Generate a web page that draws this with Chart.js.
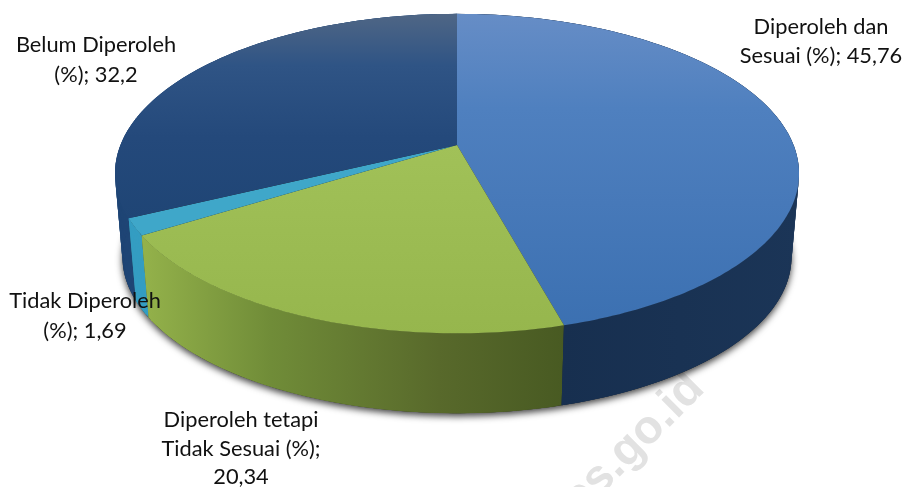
<!DOCTYPE html>
<html>
<head>
<meta charset="utf-8">
<script src="https://cdn.jsdelivr.net/npm/chart.js@4/dist/chart.umd.min.js"></script>
<style>
  body { margin: 0; background: #fff; }
  canvas { display: block; }
</style>
</head>
<body>
<canvas id="chartPie" width="908" height="487"></canvas>
<script>
const categories = ["Diperoleh dan Sesuai (%)", "Diperoleh tetapi Tidak Sesuai (%)", "Tidak Diperoleh (%)", "Belum Diperoleh (%)"];
const values = [45.76, 20.34, 1.69, 32.2];
const baseColors = ["#4a7dbd", "#9bbb52", "#3fa7c9", "#24497b"];
const labelLines = [
    ["Diperoleh dan", "Sesuai (%); 45,76"],
    ["Diperoleh tetapi", "Tidak Sesuai (%);", "20,34"],
    ["Tidak Diperoleh", "(%); 1,69"],
    ["Belum Diperoleh", "(%); 32,2"]
];
const labelAnchors = [[821, 27, 28.5], [241, 420, 28.5], [85, 301, 30], [96, 45, 30]];

// projection of the pie disc, seen from above with some perspective
const view = { cx: 457, cy: 145, rx: 336.5, ry: 154.6, persp: 0.179, drop: 84, shrink: 0.978 };

const project = function (angle, lower) {
    const th = angle + Math.PI / 2;
    const u = Math.sin(th), v = -Math.cos(th);
    const w = 1 - view.persp * v;
    const s = lower ? view.shrink : 1;
    return {
        x: view.cx + s * view.rx * u / w,
        y: view.cy + (lower ? view.drop : 0) + s * view.ry * v / w
    };
};

const tracePoints = function (ctx, a0, a1, lower, first) {
    const n = Math.max(2, Math.ceil(Math.abs(a1 - a0) * 60));
    for (let i = 0; i <= n; i++) {
        const p = project(a0 + (a1 - a0) * i / n, lower);
        if (i === 0 && first) { ctx.moveTo(p.x, p.y); } else { ctx.lineTo(p.x, p.y); }
    }
};

const linear = function (ctx, x0, y0, x1, y1, stops) {
    const g = ctx.createLinearGradient(x0, y0, x1, y1);
    stops.forEach(s => g.addColorStop(s[0], s[1]));
    return g;
};

const topFill = function (ctx, i) {
    if (i === 0) return linear(ctx, 0, 14, 0, 330, [[0, "#668dc6"], [0.3, "#4f80bf"], [0.6, "#4779b9"], [1, "#3b70b1"]]);
    if (i === 1) return linear(ctx, 0, 145, 0, 335, [[0, "#a1c158"], [1, "#96b64d"]]);
    if (i === 2) return "#3fa7c9";
    return linear(ctx, 0, 14, 0, 220, [[0, "#4f6685"], [0.25, "#2f5485"], [0.6, "#24497b"], [1, "#1f4575"]]);
};

const wallFill = function (ctx, i) {
    if (i === 0) return linear(ctx, 560, 0, 800, 0, [[0, "#172f4f"], [1, "#1b3557"]]);
    if (i === 1) return linear(ctx, 145, 0, 565, 0, [[0, "#93b14a"], [0.3, "#708c38"], [0.7, "#58692b"], [1, "#485a22"]]);
    if (i === 2) return "#349dc2";
    return "#1f4575";
};

// the wall is filled in overlapping strips, one outline would cancel itself where it folds at the sides
const drawWall = function (ctx, arc, fill) {
    const n = Math.max(2, Math.ceil((arc.endAngle - arc.startAngle) * 60));
    const step = (arc.endAngle - arc.startAngle) / n;
    ctx.fillStyle = fill;
    for (let i = 0; i < n; i++) {
        const a0 = arc.startAngle + i * step;
        const a1 = Math.min(a0 + 2 * step, arc.endAngle);
        const p = [project(a0, false), project(a1, false), project(a1, true), project(a0, true)];
        ctx.beginPath();
        ctx.moveTo(p[0].x, p[0].y);
        p.slice(1).forEach(q => ctx.lineTo(q.x, q.y));
        ctx.closePath();
        ctx.fill();
    }
};

// replaces the flat pie drawing with walls and a tilted top, using the arc angles
const pie3d = {
    id: 'pie3d',
    beforeDraw(chart) {
        const ctx = chart.ctx;
        ctx.save();
        ctx.translate(697, 381);
        ctx.rotate(-Math.PI / 4);
        ctx.font = "bold 47px 'Liberation Sans'";
        ctx.fillStyle = "#e2e2e2";
        ctx.textAlign = "right";
        ctx.textBaseline = "middle";
        ctx.fillText("bps.go.id", 0, 0);
        ctx.restore();
    },
    beforeDatasetsDraw(chart) {
        const ctx = chart.ctx;
        const arcs = chart.getDatasetMeta(0).data;
        const full = Math.PI * 2;
        ctx.save();

        // soft shadow under the disc
        ctx.save();
        ctx.shadowColor = "rgba(0,0,0,0.75)";
        ctx.shadowBlur = 7;
        ctx.shadowOffsetY = 3;
        ctx.shadowOffsetX = 0;
        ctx.fillStyle = "#222";
        ctx.beginPath();
        tracePoints(ctx, -Math.PI / 2, -Math.PI / 2 + full, true, true);
        ctx.closePath();
        ctx.fill();
        ctx.restore();

        // walls first, back slices before front ones
        [3, 2, 1, 0].forEach(i => drawWall(ctx, arcs[i], wallFill(ctx, i)));

        arcs.forEach((arc, i) => {
            ctx.fillStyle = topFill(ctx, i);
            ctx.beginPath();
            ctx.moveTo(view.cx, view.cy);
            tracePoints(ctx, arc.startAngle, arc.endAngle, false, false);
            ctx.closePath();
            ctx.fill();
        });
        ctx.restore();
        return false;
    },
    afterDraw(chart) {
        const ctx = chart.ctx;
        ctx.save();
        ctx.font = "21.8px Lato";
        ctx.fillStyle = "#111";
        ctx.textAlign = "center";
        ctx.textBaseline = "middle";
        labelLines.forEach((lines, i) => {
            const a = labelAnchors[i];
            lines.forEach((line, j) => ctx.fillText(line, a[0], a[1] + j * a[2]));
        });
        ctx.restore();
    }
};

new Chart(document.getElementById('chartPie'), {
    type: 'pie',
    data: {
        labels: categories,
        datasets: [{ data: values, backgroundColor: baseColors, borderWidth: 0 }]
    },
    options: {
        responsive: false,
        animation: false,
        plugins: {
            legend: { display: false },
            tooltip: { enabled: false }
        }
    },
    plugins: [pie3d]
});
</script>
</body>
</html>
